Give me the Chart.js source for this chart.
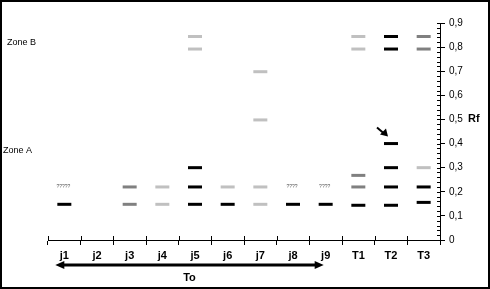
<!DOCTYPE html>
<html lang="fr">
<head>
  <meta charset="UTF-8">
  <title>Rf par piste</title>
  <script src="https://cdn.jsdelivr.net/npm/chart.js"></script>
  <style>
    body {
      margin: 0;
      padding: 0;
      background: #fff;
    }
    #wrap {
      width: 490px;
      height: 289px;
    }
  </style>
</head>
<body>
  <div id="wrap">
    <canvas id="rfChart" width="490" height="289"></canvas>
  </div>

  <script>
    // pistes (lanes) and Rf of the spots, one list per spot colour
    const lanes = ['j1', 'j2', 'j3', 'j4', 'j5', 'j6', 'j7', 'j8', 'j9', 'T1', 'T2', 'T3'];
    const blackRf = [[0.148], [], [], [], [0.148, 0.22, 0.30], [0.148], [], [0.148], [0.148], [0.144], [0.144, 0.22, 0.30, 0.40, 0.792, 0.844], [0.156, 0.22]];
    const grayRf = [[], [], [0.148, 0.22], [], [], [], [], [], [], [0.22, 0.268], [], [0.792, 0.844]];
    const lightRf = [[], [], [], [0.148, 0.22], [0.792, 0.844], [0.22], [0.148, 0.22, 0.498, 0.698], [], [], [0.792, 0.844], [], [0.30]];
    // unclear spots, written as question marks
    const unknownRf = [0.22, null, null, null, null, null, null, 0.22, 0.22, null, null, null];
    const unknownText = ['?????', '', '', '', '', '', '', '????', '????', '', '', ''];
    const yTicks = [0, 0.1, 0.2, 0.3, 0.4, 0.5, 0.6, 0.7, 0.8, 0.9];

    const FONT = "'Liberation Sans', Arial, sans-serif";

    function toPoints(list) {
      const pts = [];
      list.forEach((vals, i) => {
        vals.forEach(v => pts.push({ x: lanes[i], y: v }));
      });
      return pts;
    }

    function spotSet(list, color) {
      return {
        data: toPoints(list),
        showLine: false,
        pointStyle: 'line',
        pointRadius: 7,
        pointHoverRadius: 7,
        pointBorderWidth: 3,
        pointHoverBorderWidth: 3,
        borderColor: color,
        backgroundColor: color
      };
    }

    const extras = {
      id: 'extras',
      afterDraw(chart) {
        const ctx = chart.ctx;
        const x = chart.scales.x;
        const y = chart.scales.y;
        const area = chart.chartArea;
        ctx.save();

        // frame
        ctx.strokeStyle = '#000';
        ctx.lineWidth = 2;
        ctx.strokeRect(1, 1, 488, 287);

        // x ticks also go a bit above the axis
        ctx.lineWidth = 1;
        ctx.beginPath();
        for (let i = 0; i <= lanes.length; i++) {
          const px = Math.round(x.left + i * (x.width / lanes.length)) + 0.5;
          ctx.moveTo(px, area.bottom - 4);
          ctx.lineTo(px, area.bottom);
        }
        // y minor ticks, left of the axis
        for (let v = 0; v <= 0.9001; v += 0.02) {
          const py = Math.round(y.getPixelForValue(v)) + 0.5;
          ctx.moveTo(area.right - 3, py);
          ctx.lineTo(area.right, py);
        }
        ctx.stroke();

        // Rf title
        ctx.fillStyle = '#000';
        ctx.font = 'bold 11px ' + FONT;
        ctx.textBaseline = 'middle';
        ctx.textAlign = 'left';
        ctx.fillText('Rf', 468, y.getPixelForValue(0.5));

        // zones
        ctx.font = '9px ' + FONT;
        ctx.fillText('Zone B', 7, y.getPixelForValue(0.817));
        ctx.fillText('Zone A', 3, y.getPixelForValue(0.37));

        // question marks
        ctx.font = '5px ' + FONT;
        ctx.fillStyle = '#555';
        ctx.textAlign = 'center';
        unknownRf.forEach((v, i) => {
          if (v === null) return;
          ctx.fillText(unknownText[i], x.getPixelForValue(i) - 1, y.getPixelForValue(v));
        });

        // arrow at T2 spot 0.40
        const tx = x.getPixelForValue(10) - 3;
        const ty = y.getPixelForValue(0.40) - 7;
        ctx.strokeStyle = '#000';
        ctx.fillStyle = '#000';
        ctx.lineWidth = 2;
        ctx.beginPath();
        ctx.moveTo(tx - 11, ty - 9);
        ctx.lineTo(tx - 4, ty - 3);
        ctx.stroke();
        ctx.beginPath();
        ctx.moveTo(tx, ty);
        ctx.lineTo(tx - 8, ty - 2);
        ctx.lineTo(tx - 2, ty - 8);
        ctx.closePath();
        ctx.fill();

        // double arrow under j1..j9
        const ay = 265;
        const ax1 = x.getPixelForValue(0) - 9;
        const ax2 = x.getPixelForValue(8) - 2;
        ctx.lineWidth = 3;
        ctx.beginPath();
        ctx.moveTo(ax1 + 6, ay);
        ctx.lineTo(ax2 - 6, ay);
        ctx.stroke();
        ctx.beginPath();
        ctx.moveTo(ax1, ay);
        ctx.lineTo(ax1 + 9, ay - 4);
        ctx.lineTo(ax1 + 9, ay + 4);
        ctx.closePath();
        ctx.fill();
        ctx.beginPath();
        ctx.moveTo(ax2, ay);
        ctx.lineTo(ax2 - 9, ay - 4);
        ctx.lineTo(ax2 - 9, ay + 4);
        ctx.closePath();
        ctx.fill();

        ctx.font = 'bold 11px ' + FONT;
        ctx.textAlign = 'center';
        ctx.fillText('To', (ax1 + ax2) / 2, 278);

        ctx.restore();
      }
    };

    new Chart(document.getElementById('rfChart'), {
      type: 'line',
      data: {
        labels: lanes,
        datasets: [
          spotSet(blackRf, '#000000'),
          spotSet(grayRf, '#808080'),
          spotSet(lightRf, '#c0c0c0')
        ]
      },
      options: {
        responsive: false,
        animation: false,
        events: [],
        layout: { padding: { left: 48, top: 23, right: 0, bottom: 4 } },
        plugins: {
          legend: { display: false },
          tooltip: { enabled: false }
        },
        scales: {
          x: {
            type: 'category',
            offset: true,
            afterFit(scale) { scale.height = 45; },
            grid: {
              offset: true,
              drawOnChartArea: false,
              tickLength: 5,
              color: '#000',
              lineWidth: 1
            },
            border: { color: '#000', width: 1 },
            ticks: {
              color: '#000',
              padding: 4,
              font: { family: FONT, size: 11, weight: 'bold' }
            }
          },
          y: {
            position: 'right',
            min: 0,
            max: 0.9,
            afterFit(scale) { scale.width = 50; },
            afterBuildTicks(scale) {
              scale.ticks = yTicks.map(v => ({ value: v }));
            },
            grid: {
              drawOnChartArea: false,
              tickLength: 5,
              color: '#000',
              lineWidth: 1
            },
            border: { color: '#000', width: 1 },
            ticks: {
              color: '#000',
              padding: 4,
              font: { family: FONT, size: 10 },
              callback: v => v === 0 ? '0' : (Math.round(v * 10) / 10).toFixed(1).replace('.', ',')
            }
          }
        }
      },
      plugins: [extras]
    });
  </script>
</body>
</html>
